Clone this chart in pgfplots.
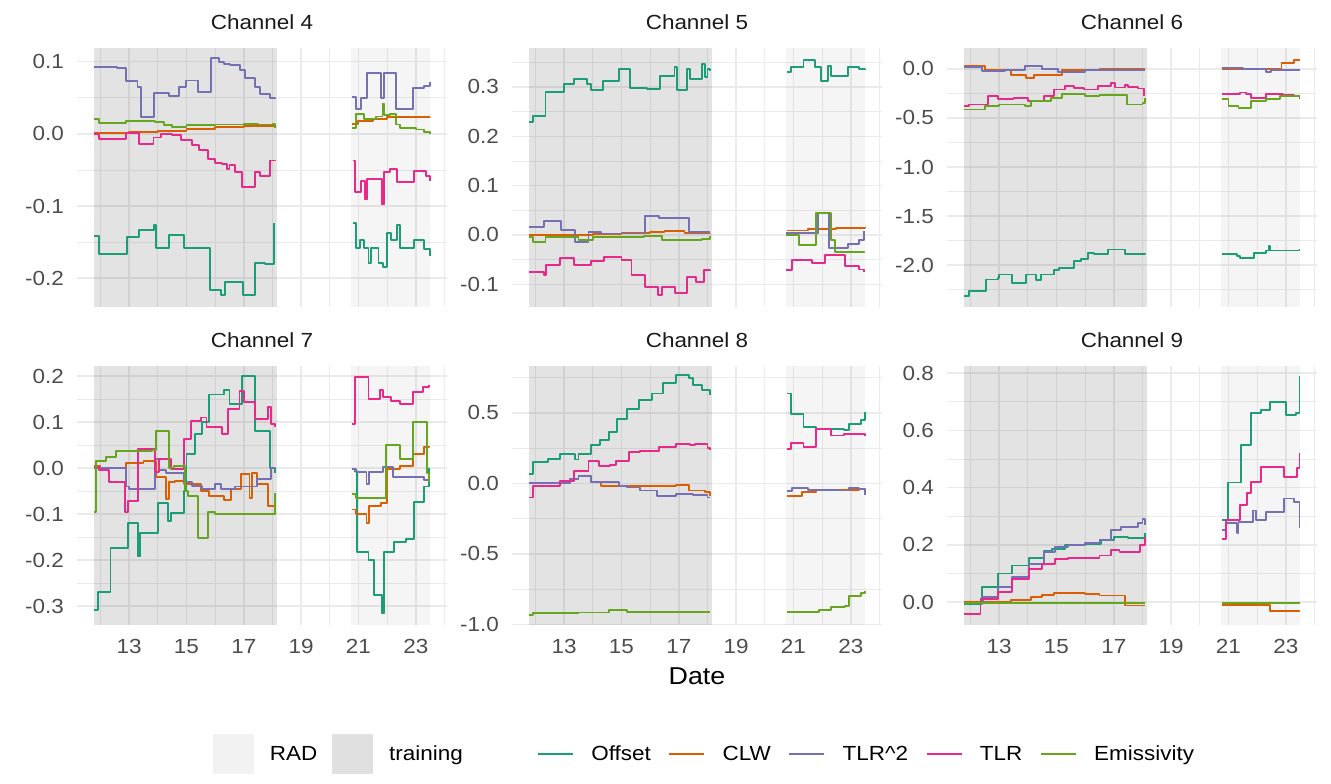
\documentclass[border=0pt]{standalone}
\usepackage{pgfplots}
\pgfplotsset{compat=1.18}
\usepackage{fontspec}
\setmainfont{Liberation Sans}[FakeStretch=1.1]
\definecolor{offc}{HTML}{1B9E77}
\definecolor{clwc}{HTML}{D95F02}
\definecolor{tlrtc}{HTML}{7570B3}
\definecolor{tlrc}{HTML}{E7298A}
\definecolor{emic}{HTML}{66A61E}
\definecolor{gridc}{HTML}{EBEBEB}
\definecolor{tickc}{HTML}{4D4D4D}
\definecolor{stripc}{HTML}{1A1A1A}
\newcommand{\ticksize}{\fontsize{20.5}{24}\selectfont}
\newcommand{\datesize}{\fontsize{24.5}{29}\selectfont}
\newcommand{\shadeit}[2]{%
  \fill[black,opacity=0.11] (axis cs:11.77,#1) rectangle (axis cs:18.16,#2);
  \fill[black,opacity=0.04] (axis cs:20.75,#1) rectangle (axis cs:23.5,#2);}
\pgfplotsset{
  boxlegend/.style={legend image code/.code={\fill[##1] (0bp,-19.5bp) rectangle (39bp,19.5bp);}},
  linelegend/.style={line width=1.8bp, legend image code/.code={\draw[##1] (0bp,0bp) -- (35bp,0bp);}},
  panel/.style={
  anchor=south west, scale only axis, width=370bp, height=259bp,
  xmin=11.18, xmax=24.09, xtick={13,15,17,19,21,23}, minor xtick={12,14,16,18,20,22,24},
  grid=both, major grid style={line width=1.5bp, color=gridc},
  minor grid style={line width=0.8bp, color=gridc},
  axis line style={draw=none}, major tick length=0pt, minor tick length=0pt,
  tick style={draw=none},
  tick label style={font=\ticksize, text=tickc},
  yticklabel style={inner sep=0pt, anchor=east, xshift=-13bp},
  xticklabel style={inner sep=0pt, anchor=north, yshift=-14bp},
  title style={font=\ticksize, text=stripc, at={(0.5,1)}, anchor=base, yshift=13bp, inner sep=0pt},
  every axis plot/.append style={line width=1.9bp, const plot, forget plot, line join=round},
  clip=true}}
\begin{document}
\begin{tikzpicture}
\path (0,0) rectangle (1331bp,784bp);
% ---------------- Channel 4
\begin{axis}[panel, at={(77bp,477bp)}, title={Channel 4},
  ymin=-0.24, ymax=0.119, ytick={-0.2,-0.1,0,0.1}, yticklabels={-0.2,-0.1,0.0,0.1},
  minor ytick={-0.15,-0.05,0.05}, xticklabels={}]
\shadeit{-0.24}{0.119}
\addplot[offc] coordinates {(11.77,-0.142) (11.95,-0.167) (12.94,-0.143) (13.35,-0.133) (13.88,-0.126) (13.94,-0.158) (14.40,-0.140) (14.90,-0.158) (15.81,-0.216) (16.2,-0.223) (16.35,-0.205) (16.98,-0.223) (17.39,-0.179) (17.74,-0.181) (18.05,-0.123)};
\addplot[offc] coordinates {(20.82,-0.123) (20.93,-0.158) (21.05,-0.147) (21.2,-0.158) (21.35,-0.179) (21.45,-0.158) (21.70,-0.179) (21.85,-0.184) (22.0,-0.137) (22.15,-0.147) (22.35,-0.126) (22.45,-0.158) (22.95,-0.147) (23.3,-0.16) (23.5,-0.170)};
\addplot[clwc] coordinates {(11.77,0.001) (13,0.002) (14,0.004) (15,0.007) (16,0.009) (17,0.011) (18.09,0.012)};
\addplot[clwc] coordinates {(20.78,0.014) (21.0,0.018) (21.5,0.021) (22,0.023) (23.5,0.024)};
\addplot[tlrtc] coordinates {(11.77,0.093) (12.59,0.091) (12.88,0.073) (13.29,0.065) (13.41,0.023) (13.88,0.056) (14.40,0.053) (14.75,0.065) (14.99,0.074) (15.40,0.058) (15.87,0.105) (16.15,0.100) (16.30,0.097) (16.51,0.095) (16.86,0.088) (17.04,0.077) (17.38,0.065) (17.56,0.055) (17.91,0.050) (18.09,0.049)};
\addplot[tlrtc] coordinates {(20.78,0.051) (20.90,0.035) (21.10,0.05) (21.30,0.084) (21.80,0.05) (21.90,0.084) (22.30,0.035) (22.90,0.063) (23.30,0.066) (23.50,0.072)};
\addplot[tlrc] coordinates {(11.77,0.0) (11.95,-0.007) (12.9,0.001) (13.35,-0.014) (13.85,-0.005) (14.1,0.0) (14.5,-0.002) (14.8,-0.009) (15.2,-0.016) (15.45,-0.023) (15.75,-0.035) (16.0,-0.04) (16.25,-0.042) (16.4,-0.049) (16.5,-0.043) (16.7,-0.053) (16.95,-0.074) (17.38,-0.053) (17.56,-0.058) (17.9,-0.037) (18.09,-0.036)};
\addplot[tlrc] coordinates {(20.80,-0.037) (20.89,-0.081) (21.1,-0.065) (21.22,-0.091) (21.3,-0.063) (21.82,-0.098) (21.9,-0.053) (22.1,-0.049) (22.36,-0.067) (22.94,-0.051) (23.35,-0.058) (23.5,-0.065)};
\addplot[emic] coordinates {(11.77,0.021) (11.95,0.015) (12.9,0.018) (13.9,0.016) (14.2,0.012) (14.5,0.010) (15,0.012) (16,0.013) (17,0.014) (17.5,0.013) (18.0,0.014) (18.09,0.008)};
\addplot[emic] coordinates {(20.78,0.008) (20.9,0.028) (21.2,0.02) (21.6,0.024) (21.84,0.042) (21.9,0.026) (22.1,0.027) (22.3,0.013) (22.45,0.008) (23.0,0.006) (23.3,0.003) (23.5,0.0)};
\end{axis}
% ---------------- Channel 5
\begin{axis}[panel, at={(512bp,477bp)}, title={Channel 5},
  ymin=-0.146, ymax=0.379, ytick={-0.1,0,0.1,0.2,0.3}, yticklabels={-0.1,0.0,0.1,0.2,0.3},
  minor ytick={-0.05,0.05,0.15,0.25,0.35}, xticklabels={}]
\shadeit{-0.146}{0.379}
\addplot[offc] coordinates {(11.77,0.229) (11.9,0.242) (12.35,0.29) (13.0,0.306) (13.35,0.316) (13.8,0.306) (13.95,0.293) (14.35,0.313) (14.9,0.337) (15.3,0.298) (15.9,0.296) (16.35,0.323) (16.85,0.34) (16.95,0.293) (17.3,0.337) (17.38,0.316) (17.8,0.347) (17.9,0.32) (18.0,0.337) (18.09,0.333)};
\addplot[offc] coordinates {(20.78,0.33) (20.9,0.34) (21.35,0.354) (21.75,0.34) (21.95,0.313) (22.2,0.343) (22.3,0.323) (22.9,0.34) (23.3,0.337) (23.5,0.334)};
\addplot[clwc] coordinates {(11.77,0.0) (13,0.0) (14,0.002) (15,0.004) (16,0.006) (16.5,0.008) (17.2,0.004) (18.09,0.005)};
\addplot[clwc] coordinates {(20.78,0.009) (21.5,0.012) (22.5,0.014) (23.5,0.016)};
\addplot[tlrtc] coordinates {(11.77,0.016) (12.3,0.028) (12.9,0.01) (13.38,-0.014) (13.85,0.006) (14.3,0.003) (15.82,0.038) (16.3,0.034) (17.35,0.006) (18.09,0.006)};
\addplot[tlrtc] coordinates {(20.75,0.004) (21.75,0.003) (21.85,0.044) (22.25,-0.027) (22.9,-0.019) (23.3,-0.01) (23.46,0.008)};
\addplot[tlrc] coordinates {(11.77,-0.075) (12.3,-0.082) (12.38,-0.06) (12.85,-0.047) (13.35,-0.061) (13.95,-0.052) (14.38,-0.045) (15.0,-0.05) (15.35,-0.081) (15.82,-0.105) (16.28,-0.121) (16.4,-0.105) (16.88,-0.117) (17.3,-0.085) (17.6,-0.095) (17.88,-0.071) (18.09,-0.073)};
\addplot[tlrc] coordinates {(20.75,-0.071) (20.95,-0.05) (21.65,-0.057) (22.1,-0.04) (22.8,-0.063) (23.3,-0.07) (23.46,-0.075)};
\addplot[emic] coordinates {(11.77,-0.005) (11.9,-0.015) (12.35,-0.005) (13.5,-0.01) (14.0,-0.005) (15.8,-0.002) (16.4,-0.010) (17.8,-0.008) (18.09,-0.003)};
\addplot[emic] coordinates {(20.75,0.0) (21.2,-0.02) (21.8,0.044) (22.3,-0.01) (22.45,-0.034) (23.46,-0.035)};
\end{axis}
% ---------------- Channel 6
\begin{axis}[panel, at={(947bp,477bp)}, title={Channel 6},
  ymin=-2.426, ymax=0.213, ytick={-2,-1.5,-1,-0.5,0}, yticklabels={-2.0,-1.5,-1.0,-0.5,0.0},
  minor ytick={-2.25,-1.75,-1.25,-0.75,-0.25}, xticklabels={}]
\shadeit{-2.426}{0.213}
\addplot[offc] coordinates {(11.78,-2.316) (11.95,-2.265) (12.55,-2.146) (12.95,-2.13) (13.0,-2.095) (13.45,-2.18) (13.95,-2.095) (14.3,-2.15) (14.45,-2.095) (14.9,-2.05) (15.1,-2.027) (15.6,-1.96) (15.85,-1.94) (16.1,-1.874) (16.3,-1.885) (16.8,-1.84) (17.4,-1.89) (18.09,-1.88)};
\addplot[offc] coordinates {(20.79,-1.89) (21.3,-1.905) (21.4,-1.925) (21.9,-1.88) (22.3,-1.85) (22.4,-1.80) (22.45,-1.85) (23.0,-1.85) (23.48,-1.84)};
\addplot[clwc] coordinates {(11.78,0.025) (12.5,-0.007) (13.4,-0.058) (13.95,-0.09) (14.2,-0.058) (15.2,-0.014) (16.5,0.0) (18.09,0.0)};
\addplot[clwc] coordinates {(20.79,0.0) (22.0,-0.005) (22.6,0.0) (22.85,0.06) (23.3,0.09) (23.48,0.10)};
\addplot[tlrtc] coordinates {(11.78,0.02) (12.4,-0.024) (13.2,-0.01) (13.9,0.027) (14.5,0.0) (15.05,-0.034) (16.0,-0.015) (18.09,-0.015)};
\addplot[tlrtc] coordinates {(20.79,0.01) (21.5,0.0) (22.3,-0.034) (22.5,-0.015) (23.48,-0.02)};
\addplot[tlrc] coordinates {(11.78,-0.38) (11.96,-0.363) (12.6,-0.278) (12.95,-0.31) (13.5,-0.30) (14.0,-0.33) (14.55,-0.28) (14.9,-0.21) (15.3,-0.177) (15.6,-0.195) (15.95,-0.21) (16.45,-0.177) (16.9,-0.143) (17.05,-0.19) (17.4,-0.16) (17.5,-0.185) (17.85,-0.2) (18.05,-0.28)};
\addplot[tlrc] coordinates {(20.79,-0.26) (21.4,-0.24) (21.6,-0.26) (21.8,-0.295) (22.3,-0.26) (22.9,-0.27) (23.3,-0.28) (23.48,-0.31)};
\addplot[emic] coordinates {(11.78,-0.414) (12.5,-0.38) (13.0,-0.363) (13.9,-0.38) (14.1,-0.33) (14.8,-0.295) (15.2,-0.26) (16.0,-0.28) (16.5,-0.262) (17.0,-0.27) (17.45,-0.363) (18.0,-0.35) (18.09,-0.30)};
\addplot[emic] coordinates {(20.79,-0.31) (21.0,-0.38) (21.35,-0.40) (21.8,-0.33) (22.3,-0.31) (22.8,-0.28) (23.48,-0.28)};
\end{axis}
% ---------------- Channel 7
\begin{axis}[panel, at={(77bp,159bp)}, title={Channel 7},
  ymin=-0.341, ymax=0.222, ytick={-0.3,-0.2,-0.1,0,0.1,0.2}, yticklabels={-0.3,-0.2,-0.1,0.0,0.1,0.2},
  minor ytick={-0.25,-0.15,-0.05,0.05,0.15}, xticklabels={13,15,17,19,21,23},
  legend style={at={(0.3676,-0.498)}, anchor=west, draw=none, fill=none, inner sep=0pt, outer sep=0pt,
    font=\ticksize, nodes={inner sep=0pt},
    /tikz/every odd column/.append style={column sep=16bp},
    /tikz/every even column/.append style={column sep=15bp}},
  legend columns=2, legend cell align=left]
\addlegendimage{boxlegend, black!5}
\addlegendentry{RAD}
\addlegendimage{boxlegend, black!12}
\addlegendentry{training}
\shadeit{-0.341}{0.222}
\addplot[offc] coordinates {(11.77,-0.309) (11.9,-0.269) (12.35,-0.174) (12.95,-0.119) (13.3,-0.192) (13.38,-0.141) (14.0,-0.075) (14.35,-0.115) (14.45,-0.097) (14.9,-0.05) (15.0,0.03) (15.3,0.075) (15.55,0.10) (15.8,0.16) (16.3,0.17) (16.5,0.14) (16.95,0.2) (17.4,0.08) (17.9,0.0) (18.09,-0.01)};
\addplot[offc] coordinates {(20.85,-0.007) (20.95,-0.183) (21.35,-0.2) (21.55,-0.275) (21.82,-0.316) (21.9,-0.183) (22.25,-0.16) (22.65,-0.155) (22.95,-0.074) (23.3,-0.04) (23.47,0.0)};
\addplot[clwc] coordinates {(11.77,0.005) (12.0,0.0) (12.9,0.012) (13.5,0.015) (13.95,-0.02) (14.3,-0.068) (14.4,-0.03) (14.6,-0.028) (14.9,-0.035) (15.5,-0.05) (15.8,-0.06) (16.3,-0.07) (16.55,-0.046) (16.9,-0.013) (17.2,-0.064) (17.3,-0.01) (17.45,-0.035) (17.85,-0.083) (18.09,-0.09)};
\addplot[clwc] coordinates {(20.79,-0.09) (20.9,-0.10) (21.28,-0.12) (21.36,-0.083) (21.8,-0.075) (22.0,-0.002) (22.45,0.004) (22.9,0.03) (23.3,0.045) (23.46,0.048)};
\addplot[tlrtc] coordinates {(11.77,0.0) (12.9,-0.04) (13.0,-0.045) (13.9,0.02) (14.05,-0.005) (14.3,-0.01) (14.6,-0.01) (14.9,-0.03) (15.2,-0.039) (15.55,-0.045) (16.0,-0.035) (16.2,-0.045) (16.7,-0.04) (17.45,-0.024) (17.95,0.0) (18.09,0.0)};
\addplot[tlrtc] coordinates {(20.79,-0.002) (20.9,-0.008) (21.28,-0.035) (21.36,-0.008) (21.85,0.002) (22.2,-0.02) (23.3,-0.025) (23.46,-0.03)};
\addplot[tlrc] coordinates {(11.77,0.002) (11.95,-0.005) (12.3,-0.03) (12.85,-0.096) (12.95,-0.072) (13.3,0.041) (13.9,-0.009) (14.05,0.02) (14.45,-0.002) (14.9,0.063) (15.15,0.103) (15.5,0.11) (15.7,0.09) (16.25,0.074) (16.45,0.129) (16.85,0.168) (17.0,0.144) (17.4,0.107) (17.85,0.133) (17.95,0.096) (18.09,0.09)};
\addplot[tlrc] coordinates {(20.79,0.096) (20.87,0.199) (21.35,0.15) (21.75,0.17) (21.85,0.155) (22.15,0.146) (22.45,0.14) (22.9,0.166) (23.25,0.177) (23.46,0.18)};
\addplot[emic] coordinates {(11.77,-0.096) (11.83,0.015) (12.2,0.025) (12.55,0.037) (13.8,0.04) (13.95,0.081) (14.4,0.0) (14.55,0.005) (14.95,-0.05) (15.05,-0.06) (15.4,-0.152) (15.75,-0.096) (16.0,-0.10) (17.9,-0.10) (18.09,-0.053)};
\addplot[emic] coordinates {(20.79,-0.057) (20.9,-0.065) (21.95,0.05) (22.45,0.02) (22.9,0.1) (23.3,0.1) (23.40,-0.01) (23.46,-0.03)};
\end{axis}
% ---------------- Channel 8
\begin{axis}[panel, at={(512bp,159bp)}, title={Channel 8},
  ymin=-1.004, ymax=0.833, ytick={-1,-0.5,0,0.5}, yticklabels={-1.0,-0.5,0.0,0.5},
  minor ytick={-0.75,-0.25,0.25,0.75}, xticklabels={13,15,17,19,21,23},
  xlabel={Date}, xlabel style={font=\datesize, text=black, at={(0.5,0)}, anchor=base, yshift=-60bp, inner sep=0pt}]
\shadeit{-1.004}{0.833}
\addplot[offc] coordinates {(11.77,0.067) (11.9,0.15) (12.45,0.174) (12.85,0.21) (13.38,0.17) (13.5,0.21) (13.95,0.27) (14.25,0.305) (14.55,0.364) (14.85,0.46) (15.2,0.53) (15.6,0.59) (16.05,0.638) (16.45,0.71) (16.9,0.77) (17.35,0.75) (17.5,0.70) (17.8,0.66) (18.09,0.626)};
\addplot[offc] coordinates {(20.78,0.638) (20.9,0.495) (21.35,0.40) (21.8,0.388) (22.75,0.376) (22.95,0.424) (23.35,0.45) (23.5,0.507)};
\addplot[clwc] coordinates {(11.77,0.0) (12.8,0.0) (13.2,0.03) (13.5,0.055) (13.95,0.01) (14.3,-0.017) (16.9,-0.01) (17.35,-0.05) (17.9,-0.06) (18.09,-0.09)};
\addplot[clwc] coordinates {(20.78,-0.09) (21.3,-0.06) (21.8,-0.05) (22.5,-0.045) (23.3,-0.04) (23.5,-0.08)};
\addplot[tlrtc] coordinates {(11.77,0.0) (12.8,0.0) (13.2,0.03) (13.5,0.055) (13.95,0.012) (14.65,0.01) (14.9,-0.017) (15.2,-0.029) (15.65,-0.05) (16.25,-0.09) (16.9,-0.076) (17.5,-0.085) (18.0,-0.1) (18.09,-0.1)};
\addplot[tlrtc] coordinates {(20.78,-0.055) (20.95,-0.035) (21.5,-0.045) (22.6,-0.05) (22.95,-0.035) (23.3,-0.04) (23.5,-0.08)};
\addplot[tlrc] coordinates {(11.77,-0.1) (11.9,-0.017) (12.45,-0.02) (12.85,0.02) (13.35,0.09) (13.85,0.16) (14.2,0.126) (14.6,0.13) (14.8,0.16) (15.25,0.22) (15.65,0.233) (16.3,0.257) (16.9,0.28) (17.4,0.27) (17.55,0.28) (18.0,0.25) (18.09,0.24)};
\addplot[tlrc] coordinates {(20.78,0.245) (20.9,0.29) (21.35,0.257) (21.8,0.388) (22.3,0.34) (22.75,0.352) (23.5,0.34)};
\addplot[emic] coordinates {(11.77,-0.93) (11.9,-0.917) (13.5,-0.915) (14.55,-0.90) (15.2,-0.912) (18.09,-0.912)};
\addplot[emic] coordinates {(20.78,-0.91) (21.9,-0.9) (22.3,-0.875) (22.8,-0.87) (22.95,-0.80) (23.35,-0.78) (23.5,-0.765)};
\end{axis}
% ---------------- Channel 9
\begin{axis}[panel, at={(947bp,159bp)}, title={Channel 9},
  ymin=-0.08, ymax=0.825, ytick={0,0.2,0.4,0.6,0.8}, yticklabels={0.0,0.2,0.4,0.6,0.8},
  minor ytick={0.1,0.3,0.5,0.7}, xticklabels={13,15,17,19,21,23},
  legend style={at={(-1.108,-0.498)}, anchor=west, draw=none, fill=none, inner sep=0pt, outer sep=0pt,
    font=\ticksize, nodes={inner sep=0pt},
    /tikz/every odd column/.append style={column sep=17.5bp},
    /tikz/every even column/.append style={column sep=17.5bp}},
  legend columns=5, legend cell align=left]
\addlegendimage{linelegend, offc}
\addlegendentry{Offset}
\addlegendimage{linelegend, clwc}
\addlegendentry{CLW}
\addlegendimage{linelegend, tlrtc}
\addlegendentry{TLR\textasciicircum 2}
\addlegendimage{linelegend, tlrc}
\addlegendentry{TLR}
\addlegendimage{linelegend, emic}
\addlegendentry{Emissivity}
\shadeit{-0.08}{0.825}
\addplot[offc] coordinates {(11.78,-0.006) (12.4,0.053) (12.95,0.1) (13.45,0.128) (14.05,0.155) (14.55,0.178) (14.85,0.187) (15.3,0.2) (16.0,0.204) (16.55,0.218) (17.0,0.228) (17.5,0.225) (18.09,0.24)};
\addplot[offc] coordinates {(20.79,0.286) (21.0,0.418) (21.45,0.549) (21.8,0.66) (22.15,0.672) (22.45,0.70) (23.0,0.654) (23.36,0.66) (23.48,0.79)};
\addplot[clwc] coordinates {(11.78,0.0) (13.4,0.008) (14.1,0.018) (14.5,0.026) (14.9,0.032) (16.0,0.027) (16.5,0.023) (17.4,-0.012) (18.09,-0.012)};
\addplot[clwc] coordinates {(20.79,-0.01) (22.45,-0.03) (23.48,-0.035)};
\addplot[tlrtc] coordinates {(11.78,-0.004) (12.45,0.018) (12.95,0.053) (13.45,0.088) (14.05,0.134) (14.55,0.175) (14.95,0.193) (15.4,0.2) (16.0,0.205) (16.5,0.216) (16.9,0.251) (17.25,0.263) (17.85,0.275) (18.0,0.289) (18.09,0.27)};
\addplot[tlrtc] coordinates {(20.79,0.251) (20.9,0.275) (21.3,0.24) (21.35,0.28) (21.85,0.32) (21.95,0.286) (22.3,0.315) (22.95,0.362) (23.3,0.35) (23.48,0.26)};
\addplot[tlrc] coordinates {(11.78,-0.04) (12.35,0.012) (12.95,0.035) (13.45,0.082) (14.05,0.117) (14.5,0.134) (14.95,0.152) (15.4,0.155) (16.5,0.163) (16.9,0.183) (17.2,0.175) (17.9,0.2) (18.09,0.228)};
\addplot[tlrc] coordinates {(20.79,0.222) (20.9,0.286) (21.4,0.339) (21.65,0.38) (21.8,0.42) (22.15,0.473) (22.95,0.438) (23.4,0.47) (23.48,0.52)};
\addplot[emic] coordinates {(11.78,-0.002) (18.09,-0.002)};
\addplot[emic] coordinates {(20.79,-0.002) (23.48,-0.002)};
\end{axis}
\end{tikzpicture}
\end{document}
